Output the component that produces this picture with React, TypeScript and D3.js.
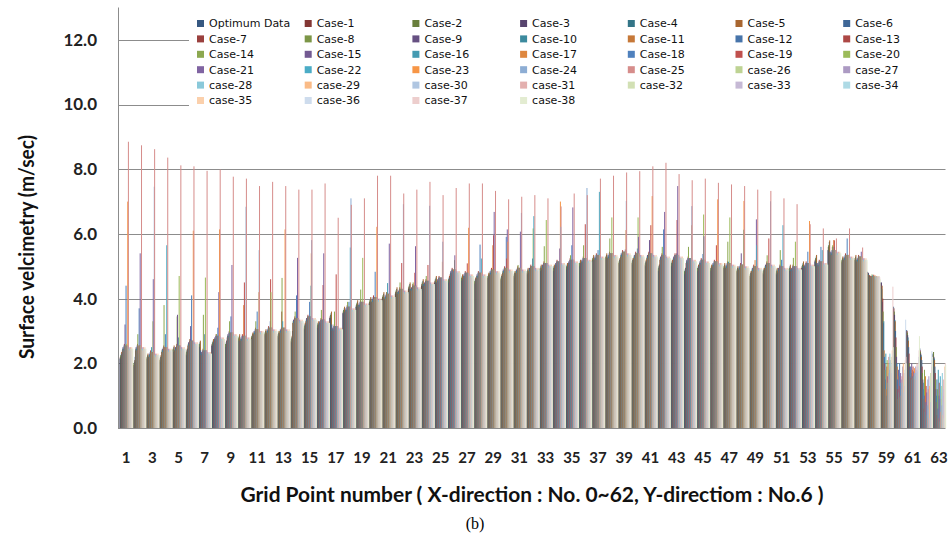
import React from "react";
import * as d3 from "d3";

const width = 951;
const height = 541;

const gridPoints = d3.range(1, 64);
const xTickLabels = gridPoints.filter((g) => g % 2 === 1);
const yTicks = [0, 2, 4, 6, 8, 10, 12];

const seriesNames = [
  "Optimum Data", "Case-1", "Case-2", "Case-3", "Case-4", "Case-5", "Case-6",
  "Case-7", "Case-8", "Case-9", "Case-10", "Case-11", "Case-12", "Case-13",
  "Case-14", "Case-15", "Case-16", "Case-17", "Case-18", "Case-19", "Case-20",
  "Case-21", "Case-22", "Case-23", "Case-24", "Case-25", "case-26", "case-27",
  "case-28", "case-29", "case-30", "case-31", "case-32", "case-33", "case-34",
  "case-35", "case-36", "case-37", "case-38",
];

// shared readings for grid points 1..57 (the dark low bars and the light base bars)
const lowLevel = [
  2.15, 1.9, 2.1, 2.05, 2.35, 2.25, 2.5, 2.55, 2.5, 2.7,
  2.75, 2.85, 2.8, 2.65, 3.05, 3.1, 3.4, 3.55, 3.75, 3.85,
  4.0, 4.15, 4.3, 4.4, 4.5, 4.5, 4.55, 4.45, 4.6, 4.55,
  4.65, 4.75, 4.85, 4.85, 4.9, 5.0, 5.15, 5.2, 5.05, 5.05,
  5.0, 4.85, 5.0, 4.75, 4.85, 4.85, 4.9, 4.8, 4.65, 4.75,
  4.75, 4.85, 4.95, 5.15, 5.5, 5.1, 5.15,
];
const baseLevel = [
  2.45, 2.45, 2.25, 2.4, 2.45, 2.6, 2.3, 2.75, 2.85, 2.75,
  2.95, 3.0, 3.0, 3.3, 3.35, 3.25, 3.05, 3.65, 3.8, 3.95,
  4.05, 4.2, 4.3, 4.45, 4.55, 4.8, 4.7, 4.7, 4.8, 4.85,
  4.85, 4.9, 5.0, 5.05, 5.1, 5.15, 5.25, 5.3, 5.35, 5.3,
  5.3, 5.25, 5.25, 5.15, 5.1, 5.05, 5.0, 4.95, 4.9, 5.0,
  4.9, 4.9, 5.0, 5.05, 5.4, 5.25, 5.2,
];
const baseUp = [
  2.5, 2.5, 2.3, 2.45, 2.5, 2.65, 2.35, 2.8, 2.9, 2.8,
  3.0, 3.05, 3.05, 3.35, 3.4, 3.3, 3.1, 3.7, 3.85, 4.0,
  4.1, 4.25, 4.35, 4.5, 4.6, 4.85, 4.75, 4.75, 4.85, 4.9,
  4.9, 4.95, 5.05, 5.1, 5.15, 5.2, 5.3, 5.35, 5.4, 5.35,
  5.35, 5.3, 5.3, 5.2, 5.15, 5.1, 5.05, 5.0, 4.95, 5.05,
  4.95, 4.95, 5.05, 5.1, 5.45, 5.3, 5.25,
];
const baseDown = [
  2.4, 2.4, 2.2, 2.35, 2.4, 2.55, 2.25, 2.7, 2.8, 2.7,
  2.9, 2.95, 2.95, 3.25, 3.3, 3.2, 3.0, 3.6, 3.75, 3.9,
  4.0, 4.15, 4.25, 4.4, 4.5, 4.75, 4.65, 4.65, 4.75, 4.8,
  4.8, 4.85, 4.95, 5.0, 5.05, 5.1, 5.2, 5.25, 5.3, 5.25,
  5.25, 5.2, 5.2, 5.1, 5.05, 5.0, 4.95, 4.9, 4.85, 4.95,
  4.85, 4.85, 4.95, 5.0, 5.35, 5.2, 5.15,
];

const optimumData = [...lowLevel, 4.83, 4.5, 3.75, 3.03, 2.46, 2.3];
const case1 = [
  2.2, 1.95, 2.15, 2.1, 2.4, 2.3, 2.55, 2.6, 2.55, 2.75,
  2.8, 2.9, 2.85, 2.7, 3.1, 3.15, 3.45, 3.6, 3.8, 3.9,
  4.05, 4.2, 4.35, 4.45, 4.55, 4.55, 4.6, 4.5, 4.65, 4.6,
  4.7, 4.8, 4.9, 4.9, 4.95, 5.05, 5.2, 5.25, 5.1, 5.1,
  5.05, 4.9, 5.05, 4.8, 4.9, 4.9, 4.95, 4.85, 4.7, 4.8,
  4.8, 4.9, 5.0, 5.2, 5.6, 5.15, 5.2, 4.8, 4.45, 3.7, 3.0, 2.4, 2.25,
];
const case2 = [
  2.25, 2.0, 2.2, 2.15, 2.45, 2.35, 2.6, 2.65, 2.6, 2.8,
  2.85, 2.95, 2.9, 2.75, 3.15, 3.2, 3.5, 3.65, 3.85, 3.95,
  4.1, 4.25, 4.4, 4.5, 4.6, 4.6, 4.65, 4.55, 4.7, 4.65,
  4.75, 4.85, 4.95, 4.95, 5.0, 5.1, 5.25, 5.3, 5.15, 5.15,
  5.1, 4.95, 5.1, 4.85, 4.95, 4.95, 5.0, 4.9, 4.75, 4.85,
  4.85, 4.95, 5.05, 5.25, 5.65, 5.2, 5.25, 4.78, 4.4, 3.6, 2.95, 2.35, 2.35,
];
const case3 = [...lowLevel, 4.8, 4.5, 3.5, 2.87, 2.3, 2.2];
const case4 = [
  2.3, 2.05, 2.25, 2.2, 2.5, 2.4, 2.65, 2.7, 2.65, 2.85,
  2.9, 3.0, 2.95, 2.8, 3.2, 3.25, 3.55, 3.7, 3.9, 4.0,
  4.15, 4.3, 4.45, 4.55, 4.65, 4.65, 4.7, 4.6, 4.75, 4.7,
  4.8, 4.9, 5.0, 5.0, 5.05, 5.15, 5.3, 5.35, 5.2, 5.2,
  5.15, 5.0, 5.15, 4.9, 5.0, 5.0, 5.05, 4.95, 4.8, 4.9,
  4.9, 5.0, 5.1, 5.3, 5.75, 5.25, 5.3, 4.75, 4.3, 3.34, 2.8, 2.25, 2.15,
];
const case5 = [
  2.35, 2.1, 2.3, 2.25, 2.55, 2.45, 2.7, 2.75, 2.7, 2.9,
  2.95, 3.05, 3.0, 2.85, 3.25, 3.3, 3.6, 3.75, 3.95, 4.05,
  4.2, 4.35, 4.5, 4.6, 4.7, 4.7, 4.75, 4.65, 4.8, 4.75,
  4.85, 4.95, 5.05, 5.05, 5.1, 5.2, 5.35, 5.4, 5.25, 5.25,
  5.2, 5.05, 5.2, 4.95, 5.05, 5.05, 5.1, 5.0, 4.85, 4.95,
  4.95, 5.05, 5.15, 5.35, 5.8, 5.3, 5.35, 4.73, 4.4, 3.3, 2.7, 2.2, 2.1,
];
const case6 = [
  2.3, 2.2, 2.2, 2.2, 2.4, 2.45, 2.4, 2.65, 2.7, 2.7,
  2.85, 2.9, 2.9, 3.0, 3.2, 3.2, 3.2, 3.6, 3.8, 3.9,
  4.0, 4.2, 4.3, 4.45, 4.5, 4.65, 4.6, 4.6, 4.7, 4.7,
  4.75, 4.8, 4.9, 4.95, 5.0, 5.1, 5.2, 5.25, 5.2, 5.2,
  5.15, 5.05, 5.1, 4.95, 5.0, 4.95, 4.95, 4.9, 4.8, 4.9,
  4.8, 4.9, 5.0, 5.1, 5.45, 5.2, 5.2, 4.7, 3.9, 3.0, 2.5, 2.1, 1.9,
];
const case7 = [...baseDown, 4.72, 4.0, 2.8, 2.3, 1.9, 1.7];
const case8 = [...baseLevel, 4.68, 3.6, 2.5, 2.0, 1.7, 1.5];
const case9 = [...baseUp, 4.7, 3.24, 2.2, 1.9, 1.5, 1.2];
const case10 = [...baseLevel, 4.65, 3.3, 2.0, 1.8, 1.2, 1.0];
const case11 = [...baseDown, 4.7, 2.4, 1.9, 1.6, 0.9, 0.8];
const case12 = [
  2.55, 2.55, 2.35, 2.5, 2.55, 2.7, 2.4, 2.85, 2.95, 2.85,
  3.05, 3.1, 3.1, 3.4, 3.45, 3.35, 3.15, 3.75, 3.9, 4.05,
  4.15, 4.3, 4.4, 4.55, 4.65, 4.9, 4.8, 4.8, 4.9, 4.95,
  4.95, 5.0, 5.1, 5.15, 5.2, 5.25, 5.35, 5.4, 5.45, 5.4,
  5.4, 5.35, 5.35, 5.25, 5.2, 5.15, 5.1, 5.05, 5.0, 5.1,
  5.0, 5.0, 5.1, 5.15, 5.5, 5.35, 5.3, 4.66, 2.2, 1.5, 1.9, 1.4, 1.5,
];
const case13 = [
  2.6, 2.6, 2.4, 2.55, 2.6, 2.75, 2.45, 2.9, 3.0, 2.9,
  3.1, 3.15, 3.6, 3.45, 3.5, 3.4, 3.2, 3.8, 3.95, 4.1,
  4.2, 4.35, 4.45, 4.6, 4.7, 4.95, 4.85, 4.85, 4.95, 5.0,
  5.0, 5.05, 5.15, 5.2, 5.25, 5.3, 5.4, 5.45, 5.5, 5.45,
  5.45, 5.4, 5.4, 5.3, 5.25, 5.2, 5.15, 5.1, 5.05, 5.15,
  5.05, 5.05, 5.15, 5.2, 5.6, 5.4, 5.35, 4.7, 2.0, 1.2, 1.55, 0.6, 0.4,
];
const case14 = [
  2.55, 2.9, 2.35, 3.8, 3.45, 2.75, 3.5, 2.9, 3.3, 2.8,
  3.3, 3.1, 4.64, 3.6, 3.45, 3.65, 3.6, 3.9, 4.28, 4.0,
  4.2, 4.5, 4.5, 4.7, 4.65, 4.9, 4.8, 4.8, 4.9, 4.95,
  5.04, 5.0, 5.62, 5.15, 5.34, 5.65, 5.35, 5.86, 5.45, 5.4,
  5.4, 5.6, 5.35, 5.6, 5.2, 5.15, 5.76, 5.05, 5.0, 5.34,
  5.5, 5.26, 5.1, 5.15, 5.65, 5.35, 5.3, 4.75, 1.8, 0.9, 1.7, 1.8, 1.2,
];
const case15 = [
  3.2, 2.55, 2.35, 2.5, 3.5, 3.15, 2.4, 2.85, 2.95, 2.85,
  3.05, 3.1, 3.1, 3.4, 3.45, 3.35, 3.15, 3.75, 3.9, 4.05,
  4.15, 4.3, 4.4, 4.55, 4.65, 4.9, 4.8, 4.8, 4.9, 4.95,
  4.95, 5.0, 5.1, 5.15, 5.2, 5.25, 5.35, 5.4, 5.45, 5.4,
  5.81, 5.35, 5.35, 5.25, 5.2, 5.15, 5.1, 5.4, 5.0, 5.1,
  5.0, 5.0, 5.1, 5.15, 5.5, 5.35, 5.3, 4.7, 1.5, 1.8, 2.0, 1.0, 0.6,
];
const case16 = [
  2.55, 2.3, 2.5, 2.4, 2.55, 2.7, 2.4, 2.85, 2.95, 2.85,
  3.05, 3.1, 3.3, 3.4, 3.45, 3.35, 3.15, 3.75, 3.9, 4.05,
  4.48, 4.3, 4.4, 4.55, 4.65, 4.9, 4.8, 4.8, 4.9, 4.95,
  4.95, 5.0, 5.1, 5.15, 5.2, 5.25, 5.35, 5.4, 5.45, 5.4,
  5.4, 5.35, 5.35, 5.25, 5.2, 5.15, 5.14, 5.05, 5.0, 5.1,
  5.0, 5.0, 5.1, 5.15, 5.5, 5.35, 5.3, 4.72, 2.3, 1.1, 1.5, 0.5, 1.8,
];
const case17 = [
  2.55, 2.55, 2.35, 2.5, 2.55, 2.7, 2.4, 2.85, 2.95, 3.8,
  3.05, 3.1, 3.1, 3.4, 3.45, 3.35, 3.15, 3.75, 3.9, 4.05,
  4.15, 4.3, 4.4, 4.55, 4.65, 4.9, 4.8, 4.8, 5.65, 4.95,
  4.95, 5.0, 5.1, 5.15, 5.2, 5.25, 5.35, 5.4, 5.45, 5.4,
  5.4, 5.35, 5.35, 5.25, 5.2, 5.15, 5.1, 5.05, 5.19, 5.1,
  5.0, 5.0, 5.1, 5.15, 5.81, 5.35, 5.3, 4.68, 1.2, 1.6, 1.8, 1.6, 0.3,
];
const case18 = [
  4.4, 3.7, 2.35, 2.9, 2.8, 4.1, 2.9, 3.1, 3.45, 2.85,
  3.6, 3.3, 3.1, 4.1, 3.9, 3.35, 3.15, 3.9, 3.9, 4.83,
  4.15, 4.3, 4.4, 4.55, 4.65, 4.85, 4.8, 5.67, 4.9, 5.91,
  4.95, 5.24, 5.1, 5.15, 5.65, 5.25, 5.5, 5.4, 5.45, 5.55,
  5.4, 6.14, 5.4, 5.25, 5.38, 5.15, 5.1, 5.05, 5.0, 5.1,
  5.2, 5.0, 5.45, 5.6, 5.6, 5.86, 5.3, 4.7, 1.0, 2.0, 1.6, 0.8, 1.0,
];
const case19 = [
  2.55, 2.55, 2.35, 2.5, 2.55, 2.7, 2.4, 2.85, 2.95, 4.5,
  3.05, 4.6, 3.1, 3.4, 3.45, 4.42, 4.75, 3.75, 3.9, 4.05,
  4.15, 5.1, 4.8, 5.04, 4.65, 4.9, 5.09, 4.8, 5.96, 5.24,
  4.95, 5.0, 5.1, 5.15, 5.2, 6.3, 5.35, 5.4, 5.45, 5.4,
  6.27, 5.35, 6.43, 5.25, 5.2, 5.65, 5.1, 5.05, 5.0, 5.86,
  5.0, 5.0, 5.1, 5.15, 5.8, 5.35, 5.3, 4.74, 1.9, 1.3, 1.9, 1.3, 1.4,
];
const case20 = [
  2.6, 2.55, 3.3, 2.5, 4.7, 2.7, 4.65, 2.85, 2.95, 2.85,
  3.05, 4.2, 3.1, 3.4, 3.45, 3.35, 3.15, 3.75, 5.26, 4.05,
  4.15, 4.3, 4.4, 4.55, 4.65, 5.19, 4.8, 4.8, 4.9, 4.95,
  4.95, 6.17, 6.43, 5.15, 5.2, 5.25, 5.35, 6.51, 5.45, 6.51,
  5.4, 5.35, 5.35, 5.25, 6.6, 5.15, 6.51, 5.05, 5.0, 5.1,
  5.0, 5.76, 5.1, 5.15, 5.5, 5.35, 5.3, 4.7, 2.1, 0.95, 1.55, 0.4, 0.2,
];
const case21 = [
  2.55, 5.4, 4.6, 2.5, 2.55, 2.7, 2.4, 4.2, 5.04, 2.85,
  3.05, 3.1, 3.1, 5.26, 3.45, 5.4, 3.15, 3.75, 3.9, 4.05,
  5.7, 4.3, 5.62, 4.55, 4.65, 5.34, 4.8, 4.8, 6.68, 6.14,
  6.07, 5.0, 5.1, 5.55, 6.82, 5.25, 5.35, 5.4, 5.52, 5.91,
  5.4, 6.68, 7.48, 5.25, 5.93, 5.15, 5.1, 5.05, 6.45, 5.1,
  5.0, 5.0, 5.1, 5.15, 5.5, 5.35, 5.45, 4.66, 1.6, 1.7, 1.75, 1.1, 0.9,
];
const case22 = [
  2.55, 2.55, 2.35, 5.65, 2.55, 2.7, 2.4, 2.85, 2.95, 2.85,
  3.05, 3.1, 3.1, 3.4, 4.4, 3.35, 3.15, 5.58, 3.9, 4.05,
  4.15, 4.3, 4.4, 4.55, 4.65, 4.9, 4.8, 5.24, 4.9, 4.95,
  4.95, 6.55, 5.1, 5.15, 5.2, 5.25, 7.3, 5.4, 5.45, 5.4,
  5.4, 5.35, 5.35, 5.25, 5.2, 5.15, 5.1, 6.13, 5.65, 5.1,
  6.27, 5.0, 5.1, 5.5, 5.5, 5.35, 5.3, 4.7, 1.4, 1.4, 1.6, 0.7, 1.6,
];
const case23 = [
  7.0, 2.55, 2.35, 2.5, 2.55, 6.1, 2.4, 6.14, 2.95, 2.85,
  4.2, 3.1, 6.14, 3.4, 5.4, 3.35, 3.15, 3.75, 3.9, 6.22,
  4.15, 4.3, 4.4, 4.55, 5.14, 4.9, 6.19, 4.8, 4.9, 5.76,
  4.95, 5.0, 5.1, 7.0, 5.2, 5.25, 5.35, 5.4, 6.12, 5.4,
  7.17, 5.35, 5.35, 6.27, 5.2, 7.07, 5.1, 7.02, 5.0, 5.1,
  5.0, 5.0, 6.4, 5.15, 5.5, 5.35, 5.3, 4.72, 2.0, 1.0, 1.85, 0.3, 0.5,
];
const case24 = [
  2.55, 2.55, 7.46, 2.5, 2.55, 2.7, 2.4, 2.85, 2.95, 6.84,
  5.5, 3.1, 3.1, 3.4, 5.81, 3.35, 3.15, 7.1, 3.9, 4.05,
  4.15, 6.92, 4.4, 6.87, 5.76, 4.9, 4.8, 4.8, 4.9, 4.95,
  6.65, 5.0, 5.1, 6.22, 5.2, 7.42, 5.35, 5.4, 7.02, 5.4,
  5.4, 5.35, 5.35, 6.86, 5.2, 5.15, 5.1, 5.05, 5.0, 7.01,
  5.0, 5.0, 5.1, 5.15, 5.5, 5.35, 5.3, 4.68, 1.7, 1.5, 1.7, 1.5, 1.1,
];
const case25 = [
  8.85, 8.74, 8.62, 8.36, 8.12, 8.09, 7.95, 7.99, 7.77, 7.71,
  7.48, 7.61, 7.48, 7.37, 7.37, 7.56, 6.5, 6.9, 7.1, 7.8,
  7.8, 7.25, 7.37, 7.61, 7.2, 7.42, 7.56, 7.56, 7.33, 7.07,
  7.15, 7.2, 7.1, 6.85, 7.25, 7.2, 7.71, 7.8, 7.9, 7.94,
  8.09, 8.2, 7.85, 7.66, 7.71, 7.58, 7.53, 7.48, 7.37, 7.33,
  7.1, 6.92, 6.3, 6.17, 5.86, 6.17, 5.58, 4.6, 2.2, 1.6, 1.5, 1.2, 0.9,
];
const case26 = [...baseLevel, 4.68, 2.0, 1.2, 1.6, 0.9, 1.3];
const case27 = [...baseUp, 4.7, 1.8, 1.9, 1.9, 1.6, 0.7];
const case28 = [...baseLevel, 4.65, 2.3, 1.4, 1.7, 0.6, 1.7];
const case29 = [...baseDown, 4.7, 1.5, 2.0, 1.5, 1.3, 0.4];
const case30 = [...baseLevel, 4.68, 2.1, 1.1, 1.8, 0.3, 1.0];
const case31 = [...baseUp, 4.66, 1.9, 1.7, 2.0, 1.0, 1.5];
const case32 = [...baseLevel, 4.7, 2.2, 1.5, 1.6, 1.7, 0.3];
const case33 = [...baseDown, 4.68, 1.7, 1.3, 1.75, 0.8, 1.2];
const case34 = [...baseLevel, 4.65, 2.0, 1.8, 1.9, 1.4, 0.8];
const case35 = [...baseUp, 4.7, 2.4, 2.1, 1.65, 1.9, 1.9];
const case36 = [...baseLevel, 4.68, 2.3, 3.35, 2.2, 2.38, 1.8];
const case37 = [...baseDown, 4.66, 4.37, 2.2, 2.4, 2.1, 2.0];
const case38 = [...baseLevel, 4.6, 2.5, 2.0, 2.84, 2.2, 1.95];

const seriesValues = [
  optimumData, case1, case2, case3, case4, case5, case6, case7, case8, case9,
  case10, case11, case12, case13, case14, case15, case16, case17, case18, case19,
  case20, case21, case22, case23, case24, case25, case26, case27, case28, case29,
  case30, case31, case32, case33, case34, case35, case36, case37, case38,
];

// Excel 2007 style palette: 6 accents, shaded dark -> light per cycle
const accents = ["#4F81BD", "#C0504D", "#9BBB59", "#8064A2", "#4BACC6", "#F79646"];
const shade = [-0.32, -0.2, -0.1, 0, 0.35, 0.55, 0.72];
const colorOf = (i: number) => {
  const base = accents[i % 6];
  const s = shade[Math.floor(i / 6)];
  return s < 0 ? d3.interpolateRgb(base, "#000")(-s) : d3.interpolateRgb(base, "#fff")(s);
};

const plot = { left: 118, right: 945.5, top: 7.5, bottom: 428 };

export default function App() {
  const x = d3
    .scaleBand<number>()
    .domain(gridPoints)
    .range([plot.left + 1.5, plot.right])
    .padding(0);
  const inner = d3
    .scaleBand<number>()
    .domain(d3.range(seriesNames.length))
    .range([0, x.bandwidth()]);
  const y = d3.scaleLinear().domain([0, 13]).range([plot.bottom, plot.top]);
  const barW = 1;

  const legendX0 = 197;
  const legendDx = 107.7;
  const legendY0 = 23.5;
  const legendDy = 15.4;

  return (
    <svg
      width={width}
      height={height}
      style={{ position: "absolute", left: 0, top: 0, background: "#fff" }}
    >
      <rect width={width} height={height} fill="#fff" />
      {yTicks
        .filter((t) => t > 0)
        .map((t) => (
          <line
            key={t}
            x1={plot.left}
            x2={plot.right}
            y1={Math.round(y(t)) + 0.5}
            y2={Math.round(y(t)) + 0.5}
            stroke="#8c8c8c"
            strokeWidth={1}
          />
        ))}
      <g>
        {seriesValues.map((vals, si) => (
          <g key={si} fill={colorOf(si)}>
            {vals.map((v, gi) => (
              <rect
                key={gi}
                x={(x(gridPoints[gi]) as number) + (inner(si) as number)}
                y={y(v)}
                width={barW}
                height={y(0) - y(v)}
              />
            ))}
          </g>
        ))}
      </g>
      <line x1={plot.left + 0.5} x2={plot.left + 0.5} y1={plot.top} y2={plot.bottom} stroke="#8c8c8c" />
      <line x1={plot.left} x2={plot.right} y1={plot.bottom + 0.5} y2={plot.bottom + 0.5} stroke="#8c8c8c" />

      {yTicks.map((t) => (
        <text
          key={t}
          x={97}
          y={y(t)}
          dy="0.35em"
          textAnchor="end"
          fontFamily="Lato"
          fontWeight={700}
          fontSize={17}
          fill="#222"
        >
          {t.toFixed(1)}
        </text>
      ))}
      {xTickLabels.map((g) => (
        <text
          key={g}
          x={(x(g) as number) + x.bandwidth() / 2}
          y={463}
          textAnchor="middle"
          fontFamily="Lato"
          fontWeight={700}
          fontSize={15}
          fill="#222"
        >
          {g}
        </text>
      ))}

      <rect x={189} y={11} width={757} height={102} fill="#fff" />
      {seriesNames.map((name, i) => {
        const cx = legendX0 + (i % 7) * legendDx;
        const cy = legendY0 + Math.floor(i / 7) * legendDy;
        return (
          <g key={name}>
            <rect x={cx} y={cy - 3.5} width={7} height={7} fill={colorOf(i)} />
            <text
              x={cx + 12}
              y={cy}
              dy="0.35em"
              fontFamily="DejaVu Sans"
              fontSize={11}
              fill="#111"
            >
              {name}
            </text>
          </g>
        );
      })}

      <text
        transform="translate(34,247) rotate(-90)"
        textAnchor="middle"
        fontFamily="Lato"
        fontWeight={700}
        fontSize={20}
        fill="#111"
        textLength={224}
        lengthAdjust="spacingAndGlyphs"
      >
        Surface velcimetry (m/sec)
      </text>
      <text
        x={532}
        y={502}
        textAnchor="middle"
        fontFamily="Lato"
        fontWeight={700}
        fontSize={20}
        fill="#111"
        textLength={583}
        lengthAdjust="spacingAndGlyphs"
      >
        Grid Point number ( X-direction : No. 0~62, Y-directiom : No.6 )
      </text>
      <text x={475} y={529} textAnchor="middle" fontFamily="Liberation Serif" fontSize={16} fill="#000">
        (b)
      </text>
    </svg>
  );
}
